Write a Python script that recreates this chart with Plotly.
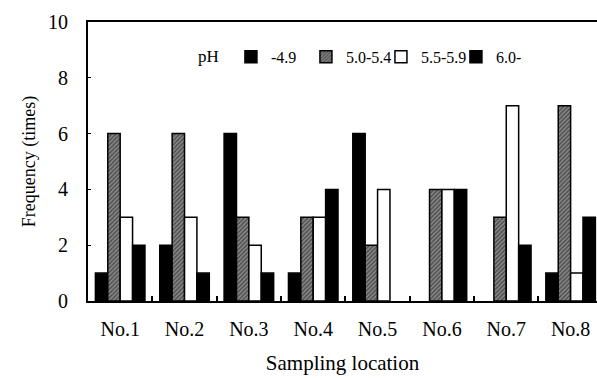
import plotly.graph_objects as go

# Sampling sites and rain-water pH classes
locations = ["No.1", "No.2", "No.3", "No.4", "No.5", "No.6", "No.7", "No.8"]
ph_classes = ["-4.9", "5.0-5.4", "5.5-5.9", "6.0-"]

# Frequency (times) of each pH class at every site
freq_le49 = [1, 2, 6, 1, 6, 0, 0, 1]
freq_50_54 = [6, 6, 3, 3, 2, 4, 3, 7]
freq_55_59 = [3, 3, 2, 3, 4, 4, 7, 1]
freq_ge60 = [2, 1, 1, 4, 0, 4, 2, 3]

series = [freq_le49, freq_50_54, freq_55_59, freq_ge60]

FONT = "Liberation Serif"

styles = [
    dict(color="black"),
    dict(color="#6a6a6a",
         pattern=dict(shape="/", fgcolor="#111111", bgcolor="#8a8a8a",
                      size=3, solidity=0.5)),
    dict(color="white"),
    dict(color="black"),
]

fig = go.Figure()
for name, vals, st in zip(ph_classes, series, styles):
    # no outline on empty (zero-count) bars
    widths = [1.5 if v > 0 else 0 for v in vals]
    marker = dict(line=dict(color="black", width=widths), **st)
    fig.add_trace(go.Bar(x=locations, y=vals, name=name, marker=marker))

tick_font = dict(family=FONT, size=20, color="black")

fig.update_layout(
    width=597, height=378,
    margin=dict(l=88, r=0, t=22, b=77),
    paper_bgcolor="white", plot_bgcolor="white",
    barmode="group", bargap=0.23, bargroupgap=0,
    font=dict(family=FONT, size=18, color="black"),
    showlegend=True,
    legend=dict(
        orientation="h", x=0.212, y=0.875, xanchor="left", yanchor="middle",
        title=dict(text="pH ", font=dict(family=FONT, size=17)),
        font=dict(family=FONT, size=16), bgcolor="rgba(0,0,0,0)",
        itemwidth=30, tracegroupgap=0,
        entrywidth=30, entrywidthmode="pixels",
    ),
    xaxis=dict(
        range=[-0.5, 7.41], showline=True, linecolor="black", linewidth=2,
        mirror=True, ticks="inside", tickson="boundaries", ticklen=5,
        tickcolor="black", tickwidth=1.5, ticklabelstandoff=9,
        tickfont=tick_font, showgrid=False, zeroline=False,
        title=dict(text="Sampling location",
                   font=dict(family=FONT, size=21, color="black"),
                   standoff=16),
    ),
    yaxis=dict(
        range=[0, 10], dtick=2, showline=True, linecolor="black", linewidth=2,
        ticks="inside", ticklen=3, tickcolor="black", tickwidth=1,
        ticklabelstandoff=14, tickfont=tick_font, showgrid=False,
        zeroline=False,
        title=dict(text="Frequency (times)",
                   font=dict(family=FONT, size=18, color="black"),
                   standoff=8),
    ),
)

fig.write_html("out.html")
